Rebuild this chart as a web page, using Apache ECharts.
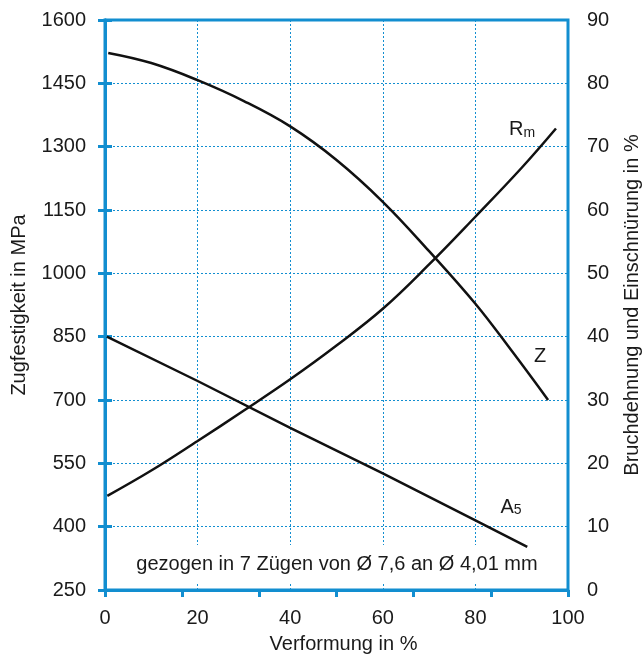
<!DOCTYPE html>
<html lang="de">
<head>
    <meta charset="UTF-8">
    <title>Zugfestigkeit, Bruchdehnung und Einschnürung</title>
    <script src="https://cdn.jsdelivr.net/npm/echarts@6/dist/echarts.min.js"></script>
    <style>
        html, body { margin: 0; padding: 0; background: #fff; }
    </style>
</head>
<body>
    <div id="main" style="width:643px;height:657px;"></div>

    <script>
        // Rm (Zugfestigkeit, linke Achse, MPa)
        const rmX = [0.5, 10, 20, 30, 40, 50, 60, 70, 80, 90, 97.4];
        const rmY = [473, 533, 603, 675, 749, 829, 916, 1021, 1134, 1250, 1343];

        // Z (Einschnürung, rechte Achse, %)
        const zX = [0.7, 10, 20, 30, 40, 50, 60, 70, 80, 88, 95.7];
        const zY = [84.8, 83.2, 80.5, 77.2, 73.2, 67.9, 61.3, 53.5, 45.2, 37.6, 30];

        // A5 (Bruchdehnung, rechte Achse, %)
        const a5X = [0.4, 20, 40, 60, 80, 91.2];
        const a5Y = [40, 33.0, 25.6, 18.4, 11.0, 6.8];

        // Beschriftung der Kurven [x, y]
        const rmLabelAt = [90.1, 1340];
        const zLabelAt = [94, 36.8];
        const a5LabelAt = [87.7, 13.1];

        const note = 'gezogen in 7 Zügen von Ø 7,6 an Ø 4,01 mm';

        const blue = '#128ed0';
        const ink = '#1a1a1a';
        const font = 'Liberation Sans, Arial, Helvetica, sans-serif';

        function pairs(xs, ys) {
            return xs.map(function (x, i) { return [x, ys[i]]; });
        }

        function plain(v) {
            return String(v);
        }

        const lbl = {
            fontSize: 20, fontFamily: font, color: ink
        };

        function curveLabel(at, text) {
            return {
                silent: true,
                symbol: 'circle',
                symbolSize: 0,
                data: [{ coord: at }],
                label: {
                    show: true,
                    position: 'inside',
                    formatter: text,
                    fontFamily: font,
                    color: ink,
                    rich: {
                        b: { fontSize: 20, fontFamily: font, color: ink, lineHeight: 20 },
                        s: { fontSize: 14, fontFamily: font, color: ink, lineHeight: 14, verticalAlign: 'bottom', padding: [5, 0, 0, 0] }
                    }
                }
            };
        }

        const chart = echarts.init(document.getElementById('main'));

        chart.setOption({
            animation: false,
            backgroundColor: '#fff',
            grid: {
                left: 105, right: 75, top: 20, bottom: 67,
                show: true,
                borderColor: blue,
                borderWidth: 3,
                outerBoundsMode: 'none'
            },
            xAxis: [{
                type: 'value',
                min: 0, max: 100, interval: 20,
                name: 'Verformung in %',
                nameLocation: 'middle',
                nameGap: 44,
                nameTextStyle: { fontSize: 20, fontFamily: font, color: ink, padding: [0, 0, 0, 14] },
                axisLine: { show: true, lineStyle: { color: blue, width: 3 } },
                axisTick: { show: false },
                axisLabel: { margin: 18, fontSize: 20, fontFamily: font, color: ink, formatter: plain },
                splitLine: { show: true, lineStyle: { color: blue, width: 1, type: [2, 2] } }
            }, {
                // Teilstriche der Originalvorlage (6 Teile)
                type: 'value',
                position: 'bottom',
                min: 0, max: 6, interval: 1,
                axisLine: { show: false },
                axisTick: { show: true, length: 7, lineStyle: { color: blue, width: 3 } },
                axisLabel: { show: false },
                splitLine: { show: false }
            }],
            yAxis: [{
                type: 'value',
                position: 'left',
                min: 250, max: 1600, interval: 150,
                name: 'Zugfestigkeit in MPa',
                nameLocation: 'middle',
                nameGap: 76,
                nameTextStyle: lbl,
                axisLine: { show: true, lineStyle: { color: blue, width: 3 } },
                axisTick: { show: true, length: 7, lineStyle: { color: blue, width: 3 } },
                axisLabel: { margin: 19, fontSize: 20, fontFamily: font, color: ink, formatter: plain },
                splitLine: { show: true, lineStyle: { color: blue, width: 1, type: [2, 2] } }
            }, {
                type: 'value',
                position: 'right',
                min: 0, max: 90, interval: 10,
                name: 'Bruchdehnung und Einschnürung in %',
                nameLocation: 'middle',
                nameGap: 54,
                nameTextStyle: lbl,
                axisLine: { show: true, lineStyle: { color: blue, width: 3 } },
                axisTick: { show: true, length: 7, lineStyle: { color: blue, width: 3 } },
                axisLabel: { margin: 19, fontSize: 20, fontFamily: font, color: ink, formatter: plain },
                splitLine: { show: false }
            }],
            graphic: [{
                type: 'text',
                x: 337,
                y: 564,
                z: 1,
                style: {
                    text: note,
                    font: '20px ' + font,
                    fill: ink,
                    align: 'center',
                    verticalAlign: 'middle',
                    backgroundColor: '#fff',
                    padding: [9, 4]
                }
            }],
            series: [{
                name: 'Rm',
                type: 'line',
                xAxisIndex: 0,
                yAxisIndex: 0,
                data: pairs(rmX, rmY),
                smooth: 0.4,
                showSymbol: false,
                lineStyle: { color: '#111', width: 2.5 },
                markPoint: curveLabel(rmLabelAt, '{b|R}{s|m}')
            }, {
                name: 'Z',
                type: 'line',
                xAxisIndex: 0,
                yAxisIndex: 1,
                data: pairs(zX, zY),
                smooth: 0.4,
                showSymbol: false,
                lineStyle: { color: '#111', width: 2.5 },
                markPoint: curveLabel(zLabelAt, '{b|Z}')
            }, {
                name: 'A5',
                type: 'line',
                xAxisIndex: 0,
                yAxisIndex: 1,
                data: pairs(a5X, a5Y),
                showSymbol: false,
                lineStyle: { color: '#111', width: 2.5 },
                markPoint: curveLabel(a5LabelAt, '{b|A}{s|5}')
            }]
        });
    </script>
</body>
</html>
